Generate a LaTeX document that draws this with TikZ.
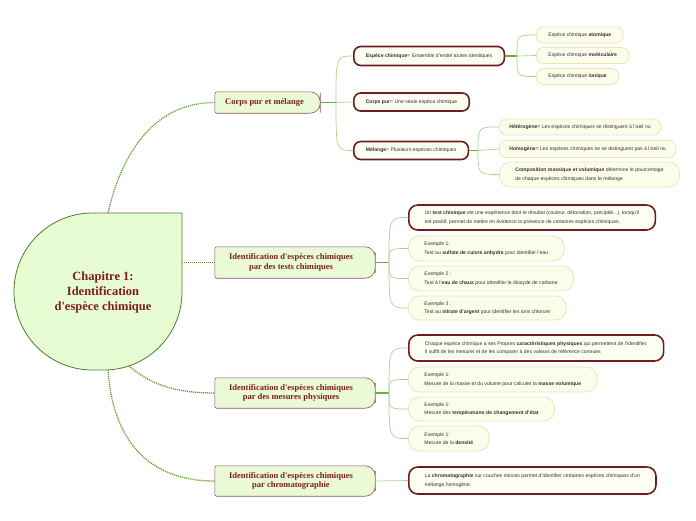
\documentclass[tikz,border=0pt]{standalone}
\usepackage{fontspec}
\setmainfont{Liberation Sans}
\newfontfamily\titlefont{Liberation Serif}
\usetikzlibrary{backgrounds}
\definecolor{dred}{HTML}{7A1E1E}
\definecolor{mainfill}{HTML}{EBFAD6}
\definecolor{mainborder}{HTML}{8E5454}
\definecolor{cfill}{HTML}{E8FCD3}
\definecolor{cborder}{HTML}{4E7D2C}
\definecolor{dotgreen}{HTML}{5FA02F}
\definecolor{stubgreen}{HTML}{6DAA3F}
\definecolor{lgreen}{HTML}{A9D38C}
\definecolor{thickred}{HTML}{6E1C20}
\definecolor{boxfill}{HTML}{FAFFF2}
\definecolor{lightborder}{HTML}{EFE2B6}
\definecolor{lightfill}{HTML}{FBFDEB}
\definecolor{txt}{HTML}{3E2C2C}
\begin{document}
\begin{tikzpicture}[x=1pt,y=-1pt,
  small/.style={font=\fontsize{5.1}{8.6}\selectfont, text=txt, align=left, anchor=west, inner ysep=0pt},
  thickbox/.style={small, draw=thickred, line width=1.6pt, fill=boxfill, rounded corners=7pt, inner xsep=12pt},
  lightbox/.style={small, draw=lightborder, line width=0.8pt, fill=lightfill, rounded corners=7pt, inner xsep=12pt},
  mainnode/.style={font=\titlefont\bfseries\fontsize{8.5}{9.5}\selectfont, text=dred, align=center, inner sep=0pt},
  mainshape/.style={fill=mainfill, draw=mainborder, line width=0.6pt},
  dotline/.style={dotgreen, line width=1.3pt, dash pattern=on 1.1pt off 0.9pt},
  stub/.style={stubgreen, line width=1.1pt},
  branch/.style={lgreen, line width=0.7pt}]
\useasboundingbox (0,0) rectangle (696,520);

% central node
\filldraw[fill=cfill, draw=cborder, line width=0.8pt]
  (182,213) -- (92.5,213) .. controls (49.1,213) and (14,248.1) .. (14,291.5)
  .. controls (14,334.9) and (49.1,370) .. (92.5,370) -- (104,370)
  .. controls (147.1,370) and (182,335.1) .. (182,292) -- cycle;
\node[font=\titlefont\bfseries\fontsize{12.5}{15}\selectfont, text=dred, align=center] (c) at (103,292) {Chapitre 1:\\Identification\\d'espèce chimique};
\coordinate (c1) at (108,213);
\coordinate (c2) at (182,262.5);
\coordinate (c3) at (129,366);
\coordinate (c4) at (108,370);

% main nodes
\node[mainnode, minimum width=105pt, minimum height=21pt] (m1) at (267.5,102.5) {\hspace*{-6pt}Corps pur et mélange};
\node[mainnode, minimum width=160pt, minimum height=31pt] (m2) at (295,262.5) {\hspace*{-8pt}Identification d'espèces chimiques\\\hspace*{-8pt}par des tests chimiques};
\node[mainnode, minimum width=160pt, minimum height=30pt] (m3) at (295,393) {\hspace*{-8pt}Identification d'espèces chimiques\\\hspace*{-8pt}par des mesures physiques};
\node[mainnode, minimum width=160pt, minimum height=30pt] (m4) at (295,481) {\hspace*{-8pt}Identification d'espèces chimiques\\\hspace*{-8pt}par chromatographie};
\begin{scope}[on background layer]
\foreach \n in {m1,m2,m3,m4}
  \path[mainshape] (\n.north) [rounded corners=2pt] -| (\n.west) |- (\n.south) [rounded corners=10pt] -| (\n.east) |- (\n.north);
\end{scope}

% level 2
\node[thickbox, minimum height=19pt] (e) at (353,56) {\textbf{Espèce chimique}= Ensemble d'entité toutes identiques};
\node[thickbox, minimum height=18pt] (cp) at (353,102) {\textbf{Corps pur}= Une seule espèce chimique};
\node[thickbox, minimum height=18pt] (me) at (353,150.5) {\textbf{Mélange}= Plusieurs espèces chimiques};

\node[lightbox, minimum height=16pt] (ea) at (536,35) {Espèce chimique \textbf{atomique}};
\node[lightbox, minimum height=16pt] (em) at (536,55.5) {Espèce chimique \textbf{moléculaire}};
\node[lightbox, minimum height=16pt] (ei) at (536,76.5) {Espèce chimique \textbf{ionique}};

\node[lightbox, minimum height=16pt, inner xsep=10pt] (he) at (499,127) {\textbf{Hétérogène}= Les espèces chimiques se distinguent à l'oeil nu};
\node[lightbox, minimum height=17pt, inner xsep=10pt] (ho) at (499,149) {\textbf{Homogène}= Les espèces chimiques ne se distinguent pas à l'oeil nu};
\node[lightbox, minimum height=25pt, inner xsep=16pt, rounded corners=11pt] (co) at (499,174.5) {\textbf{Composition massique et volumique} détermine le pourcentage\\de chaque espèces chimiques dans le mélange};

\node[thickbox, minimum height=25pt, inner xsep=16pt, rounded corners=9pt] (tc) at (408,217.5) {Un \textbf{test chimique} est une expérience dont le résultat (couleur, détonation, précipité...), lorsqu'il\\est positif, permet de mettre en évidence la présence de certaines espèces chimiques.};
\node[lightbox, minimum height=25pt, inner xsep=16pt, rounded corners=11pt] (x1) at (408,248.5) {Exemple 1:\\Test au \textbf{sulfate de cuivre anhydre} pour identifier l'eau};
\node[lightbox, minimum height=25pt, inner xsep=16pt, rounded corners=11pt] (x2) at (408,278.5) {Exemple 2 :\\Test à l'\textbf{eau de chaux} pour identifier le dioxyde de carbone};
\node[lightbox, minimum height=24pt, inner xsep=16pt, rounded corners=11pt] (x3) at (408,308) {Exemple 3 :\\Test au \textbf{nitrate d'argent} pour identifier les ions chlorure};

\node[thickbox, minimum height=26pt, inner xsep=16pt, rounded corners=9pt] (cc) at (408,348) {Chaque espèce chimique a ses Propres \textbf{caractéristiques physiques} qui permettent de l'identifier.\\Il suffit de les mesurer et de les comparer à des valeurs de référence connues};
\node[lightbox, minimum height=25pt, inner xsep=16pt, rounded corners=11pt] (y1) at (408,379.5) {Exemple 1:\\Mesure de la masse et du volume pour calculer la \textbf{masse volumique}};
\node[lightbox, minimum height=24pt, inner xsep=16pt, rounded corners=11pt] (y2) at (408,409) {Exemple 1:\\Mesure des \textbf{températures de changement d'état}};
\node[lightbox, minimum height=25pt, inner xsep=16pt, rounded corners=11pt] (y3) at (408,438.5) {Exemple 1:\\Mesure de la \textbf{densité}};

\node[thickbox, minimum height=27pt, inner xsep=16pt, rounded corners=9pt] (ch) at (408,480.5) {La \textbf{chromatographie} sur couches minces permet d'identifier certaines espèces chimiques d'un\\mélange homogène.};

% connectors from central node
\draw[dotline] (c1) .. controls (120,160) and (150,102.5) .. (m1.west);
\draw[dotline] (c2) -- (m2.west);
\draw[dotline] (c3) .. controls (148,382) and (170,393) .. (m3.west);
\draw[dotline] (c4) .. controls (112,430) and (140,481) .. (m4.west);

% branch junctions
\coordinate (j1) at (336,102.5);
\coordinate (j2) at (517,56);
\coordinate (j3) at (478,150.5);
\coordinate (j4) at (389,262.5);
\coordinate (j5) at (389,393);

\draw[stub] (m1.east) -- (j1);
\draw[branch] (j1) .. controls (j1 |- e.west) .. (e.west);
\draw[branch] (j1) -- (cp.west);
\draw[branch] (j1) .. controls (j1 |- me.west) .. (me.west);

\draw[stub] (e.east) -- (j2);
\draw[branch] (j2) .. controls (j2 |- ea.west) .. (ea.west);
\draw[branch] (j2) -- (em.west);
\draw[branch] (j2) .. controls (j2 |- ei.west) .. (ei.west);

\draw[stub] (me.east) -- (j3);
\draw[branch] (j3) .. controls (j3 |- he.west) .. (he.west);
\draw[branch] (j3) -- (ho.west);
\draw[branch] (j3) .. controls (j3 |- co.west) .. (co.west);

\draw[stub] (m2.east) -- (j4);
\draw[branch] (j4) .. controls (j4 |- tc.west) .. (tc.west);
\draw[branch] (j4) .. controls (j4 |- x1.west) .. (x1.west);
\draw[branch] (j4) .. controls (j4 |- x2.west) .. (x2.west);
\draw[branch] (j4) .. controls (j4 |- x3.west) .. (x3.west);

\draw[stub] (m3.east) -- (j5);
\draw[branch] (j5) .. controls (j5 |- cc.west) .. (cc.west);
\draw[branch] (j5) .. controls (j5 |- y1.west) .. (y1.west);
\draw[branch] (j5) .. controls (j5 |- y2.west) .. (y2.west);
\draw[branch] (j5) .. controls (j5 |- y3.west) .. (y3.west);

\draw[branch] (m4.east) -- (ch.west);
\end{tikzpicture}
\end{document}
